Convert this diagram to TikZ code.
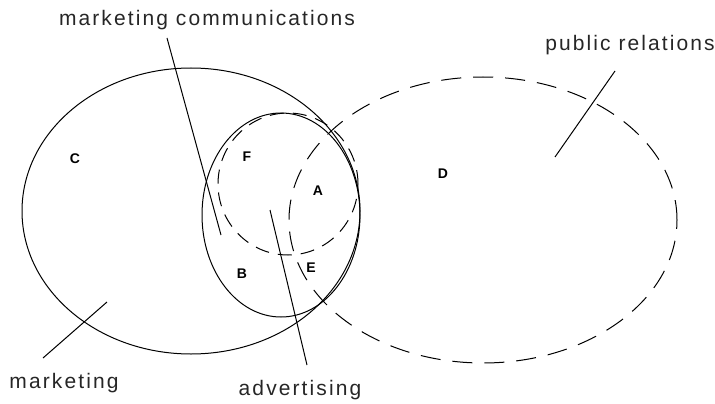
\documentclass[tikz,border=0pt]{standalone}
\usepackage{fontspec}
\setmainfont{Liberation Sans}
\newfontfamily\lblfont[LetterSpace=10]{Liberation Sans}
\usetikzlibrary{shapes.geometric}
\begin{document}
\begin{tikzpicture}[x=1pt,y=-1pt,
  set/.style={draw=black, ellipse, inner sep=0pt, line width=1pt},
  setdash/.style={set, dash pattern=on 20pt off 12pt},
  setdashsmall/.style={set, dash pattern=on 14pt off 9pt},
  lbl/.style={font=\lblfont\fontsize{21}{24}\selectfont, anchor=base, inner sep=0pt, text=black!85},
  region/.style={font=\bfseries\fontsize{14}{16}\selectfont, inner sep=0pt},
  pointer/.style={draw=black, line width=1pt}]
\useasboundingbox (0,0) rectangle (715,404);
% sets
\node[set, minimum width=338pt, minimum height=286pt] (mkt) at (191,211) {};
\node[setdash, minimum width=388pt, minimum height=286pt] (pr) at (483,220) {};
\node[set, minimum width=158pt, minimum height=204pt] (mc) at (281,215) {};
\node[setdashsmall, minimum width=140pt, minimum height=142pt] (adv) at (288,184) {};
% region letters
\node[region] (C) at (75,159) {C};
\node[region] (F) at (247,157) {F};
\node[region] (A) at (318,191) {A};
\node[region] (D) at (443,174) {D};
\node[region] (B) at (242,274) {B};
\node[region] (E) at (311,268) {E};
% labels
\node[lbl] (tmc) at (207,26) {marketing communications};
\node[lbl] (tpr) at (630,51) {public relations};
\node[lbl] (tmkt) at (64,388) {marketing};
\node[lbl] (tadv) at (300,395) {advertising};
% pointer lines
\coordinate (mc1) at (167,38);
\coordinate (mc2) at (221,235);
\coordinate (pr1) at (615,71);
\coordinate (pr2) at (555,157);
\coordinate (mk1) at (43,358);
\coordinate (mk2) at (107,302);
\coordinate (ad1) at (307,365);
\coordinate (ad2) at (270,210);
\draw[pointer] (mc1) -- (mc2);
\draw[pointer] (pr1) -- (pr2);
\draw[pointer] (mk1) -- (mk2);
\draw[pointer] (ad1) -- (ad2);
\end{tikzpicture}
\end{document}
